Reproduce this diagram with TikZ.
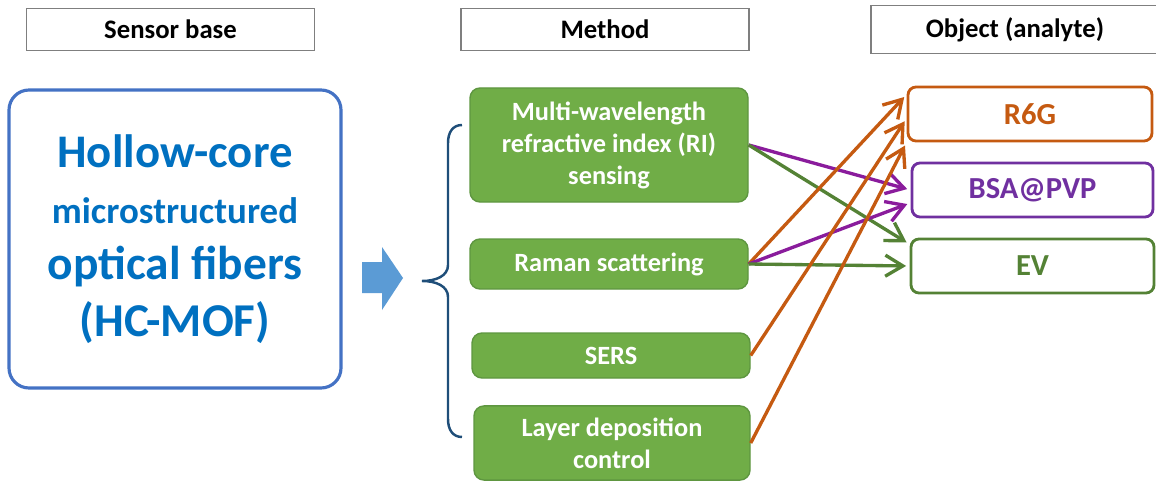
\documentclass[tikz,border=0pt]{standalone}
\usepackage{fontspec}
\setmainfont{Carlito}
\usepackage{xcolor}
\usetikzlibrary{arrows.meta}

\definecolor{headgray}{HTML}{7F7F7F}
\definecolor{fiberblue}{HTML}{0070C0}
\definecolor{fiberedge}{HTML}{4472C4}
\definecolor{blockblue}{HTML}{5B9BD5}
\definecolor{bracenavy}{HTML}{1F4E79}
\definecolor{methodgreen}{HTML}{70AD47}
\definecolor{methodedge}{HTML}{5E9640}
\definecolor{rorange}{HTML}{C55A11}
\definecolor{bpurple}{HTML}{7030A0}
\definecolor{linkpurple}{HTML}{8A1C9C}
\definecolor{egreen}{HTML}{548235}

\begin{document}
\begin{tikzpicture}[
    every node/.style={font=\bfseries},
    headbox/.style={draw=headgray, line width=0.4pt, minimum width=2.88cm, minimum height=0.41cm, font=\bfseries\fontsize{7.6}{9}\selectfont},
    mainbox/.style={draw=fiberedge, line width=0.9pt, rounded corners=0.2cm, minimum width=3.32cm, minimum height=2.98cm, align=center, text=fiberblue, font=\bfseries\fontsize{13.4}{16}\selectfont},
    methodbox/.style={draw=methodedge, line width=0.4pt, fill=methodgreen, rounded corners=0.1cm, minimum width=2.78cm, align=center, text=white, font=\bfseries\fontsize{7.5}{9.1}\selectfont},
    objbox/.style={line width=0.8pt, rounded corners=0.08cm, minimum width=2.43cm, minimum height=0.54cm, font=\bfseries\fontsize{8.7}{10}\selectfont},
    link/.style={line width=0.95pt, -{Straight Barb[length=5pt,width=6pt]}, shorten >=1pt}
]
\useasboundingbox (0,0) rectangle (11.56,4.82);

% Headers
\node[headbox] (basehead) at (1.705,4.525) {Sensor base};
\node[headbox] (methodhead) at (6.05,4.525) {Method};
\node[headbox, minimum width=2.95cm] (objecthead) at (10.185,4.525) {\hspace*{-0.07cm}Object (analyte)};

% Sensor base
\node[mainbox] (hcmof) at (1.75,2.43) {\fontsize{13.3}{16}\selectfont Hollow-core\\
    \fontsize{10.5}{16}\selectfont microstructured\\
    \fontsize{13.5}{16}\selectfont optical fibers\\
    \fontsize{13.4}{16}\selectfont (HC-MOF)};

% Block arrow and brace
\fill[blockblue] (3.62,2.20) -- (3.82,2.20) -- (3.82,2.35) -- (4.03,2.04) -- (3.82,1.72) -- (3.82,1.89) -- (3.62,1.89) -- cycle;
\draw[bracenavy, line width=0.7pt] (4.62,3.57) .. controls (4.53,3.57) and (4.48,3.50) .. (4.48,3.39)
    -- (4.48,2.17) .. controls (4.48,2.06) and (4.36,2.01) .. (4.22,2.01)
    .. controls (4.36,2.01) and (4.48,1.96) .. (4.48,1.85)
    -- (4.48,0.63) .. controls (4.48,0.52) and (4.53,0.45) .. (4.62,0.45);

% Methods
\node[methodbox, minimum height=1.14cm] (multi) at (6.09,3.37) {Multi-wavelength\\refractive index (RI)\\sensing};
\node[methodbox, minimum height=0.50cm] (raman) at (6.09,2.18) {Raman scattering};
\node[methodbox, minimum height=0.45cm] (sers) at (6.11,1.265) {SERS};
\node[methodbox, minimum height=0.72cm, minimum width=2.76cm] (layer) at (6.12,0.39) {Layer deposition\\control};

% Objects
\node[objbox, draw=rorange, text=rorange, minimum width=2.44cm] (r6g) at (10.30,3.68) {R6G};
\node[objbox, draw=bpurple, text=bpurple, minimum width=2.41cm] (bsa) at (10.325,2.92) {BSA@PVP};
\node[objbox, draw=egreen, text=egreen] (ev) at (10.325,2.16) {EV};

% Arrows
\draw[link, linkpurple] (multi.east) -- (bsa.west);
\draw[link, egreen] (multi.east) -- (ev.170);
\draw[link, rorange] (raman.east) -- (r6g.171);
\draw[link, linkpurple] (raman.east) -- (bsa.186);
\draw[link, egreen] (raman.east) -- (ev.west);
\draw[link, rorange] (sers.east) -- (r6g.182);
\draw[link, rorange] (layer.east) -- (r6g.south west);
\end{tikzpicture}
\end{document}
